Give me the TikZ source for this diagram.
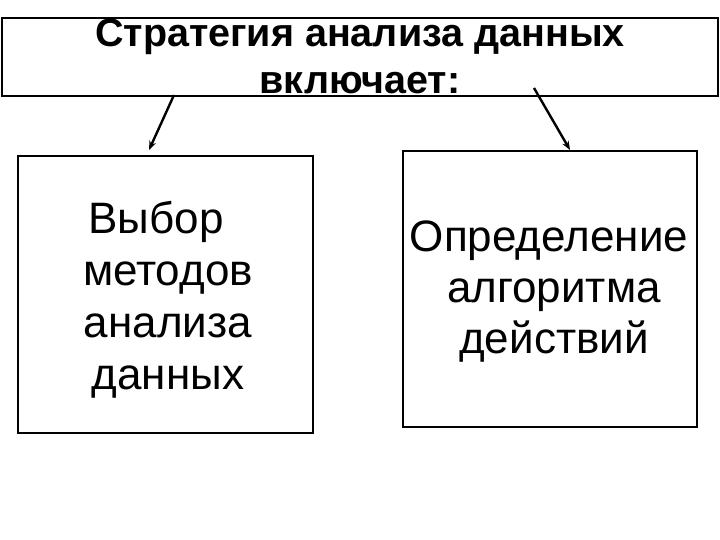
\documentclass[tikz,border=0pt]{standalone}
\usepackage{fontspec}
\setmainfont{Liberation Sans}
\usetikzlibrary{arrows.meta}
\begin{document}
\begin{tikzpicture}[x=1pt,y=-1pt,
  box/.style={draw,line width=2pt,inner sep=0pt,anchor=north west},
  arr/.style={line width=2.4pt,-{Stealth[length=9pt,width=7pt]}},
  lbl/.style={align=center,inner sep=0pt,anchor=base}]
\useasboundingbox (0,0) rectangle (720,540);
\node[box,minimum width=716pt,minimum height=78pt] (top) at (1,17) {};
\node[box,minimum width=295pt,minimum height=277pt] (left) at (17,155) {};
\node[box,minimum width=294pt,minimum height=276pt] (right) at (402,150) {};
\node[lbl,font=\bfseries\fontsize{39.5}{47}\selectfont] (title) at (360,94) {Стратегия анализа данных\\включает:};
\node[lbl,font=\fontsize{44}{52}\selectfont] (ltext) at (168,389) {Выбор\hspace*{24pt}\\методов\\анализа\\данных};
\node[lbl,font=\fontsize{44}{51}\selectfont] (rtext) at (549,353) {Определение\\\hspace*{10pt}алгоритма\\\hspace*{10pt}действий};
\coordinate (a1s) at (174,95);
\coordinate (a1e) at (149,150);
\coordinate (a2s) at (534,88);
\coordinate (a2e) at (570,150);
\draw[arr] (a1s) -- (a1e);
\draw[arr] (a2s) -- (a2e);
\end{tikzpicture}
\end{document}
